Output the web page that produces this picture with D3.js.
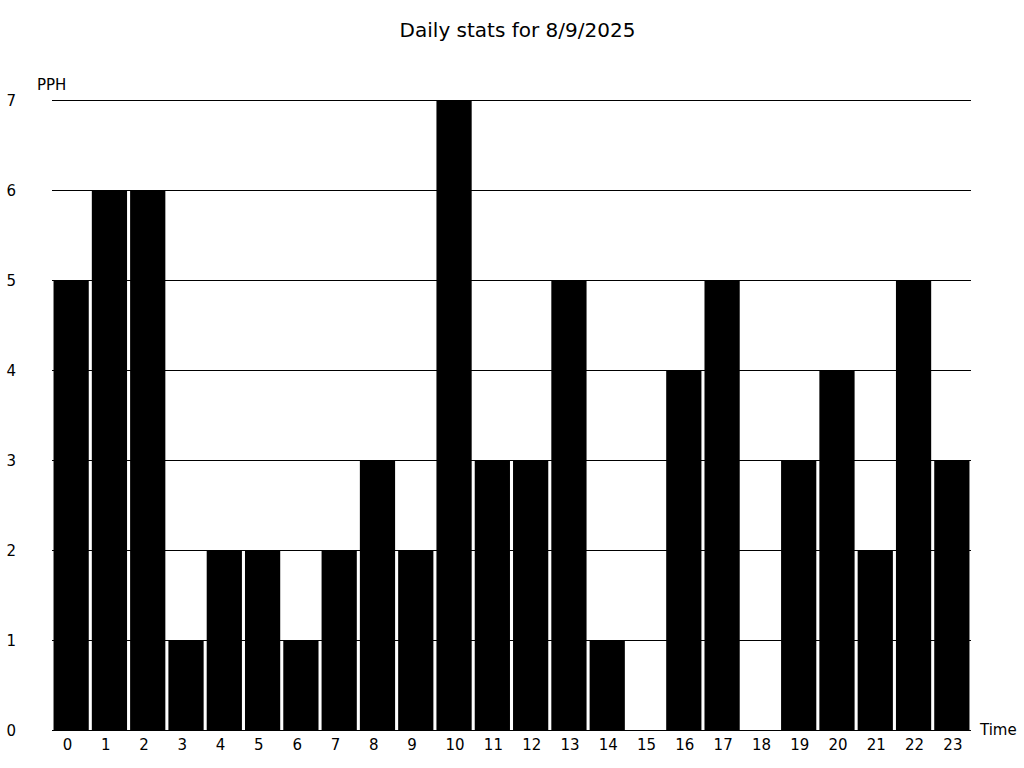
<!DOCTYPE html>
<html><head><meta charset="utf-8">
<script src="https://cdn.jsdelivr.net/npm/d3@7"></script>
<style>body{margin:0;background:#fff}svg{display:block}text{font-family:"DejaVu Sans",sans-serif;fill:#000}</style>
</head><body><svg id="c" width="1024" height="768"></svg>
<script>
const title = "Daily stats for 8/9/2025";
const hours = ["0","1","2","3","4","5","6","7","8","9","10","11","12","13","14","15","16","17","18","19","20","21","22","23"];
const pph = [5,6,6,1,2,2,1,2,3,2,7,3,3,5,1,0,4,5,0,3,4,2,5,3];
const yTicks = [0,1,2,3,4,5,6,7];
const yLabel = "PPH", xLabel = "Time";

const svg = d3.select("#c");
const x = d3.scaleBand().domain(hours).range([52, 971]).paddingInner(0.08).paddingOuter(0.04);
const y = d3.scaleLinear().domain([0, 7]).range([730, 100]);

svg.append("text").attr("x", 517.5).attr("y", 37).attr("text-anchor", "middle").attr("font-size", 20).text(title);

const g = svg.append("g");
g.selectAll("line.grid").data(yTicks).join("line")
  .attr("x1", 52).attr("x2", 971)
  .attr("y1", d => Math.round(y(d)) + 0.5).attr("y2", d => Math.round(y(d)) + 0.5)
  .attr("stroke", "#000").attr("stroke-width", 1);
g.selectAll("text.yt").data(yTicks).join("text")
  .attr("x", 16).attr("y", d => y(d) + 5.5).attr("text-anchor", "end").attr("font-size", 15)
  .text(d => d);

g.selectAll("rect").data(pph).join("rect")
  .attr("x", (d, i) => x(hours[i])).attr("width", x.bandwidth())
  .attr("y", d => y(d)).attr("height", d => y(0) - y(d)).attr("fill", "#000");

g.selectAll("text.xt").data(hours).join("text")
  .attr("x", d => x(d) + x.bandwidth() / 2 - 8.5).attr("y", 750).attr("text-anchor", "start").attr("font-size", 15)
  .text(d => d);

svg.append("text").attr("x", 37).attr("y", 90).attr("font-size", 15).text(yLabel);
svg.append("text").attr("x", 980).attr("y", 735).attr("font-size", 15).text(xLabel);
</script></body></html>
